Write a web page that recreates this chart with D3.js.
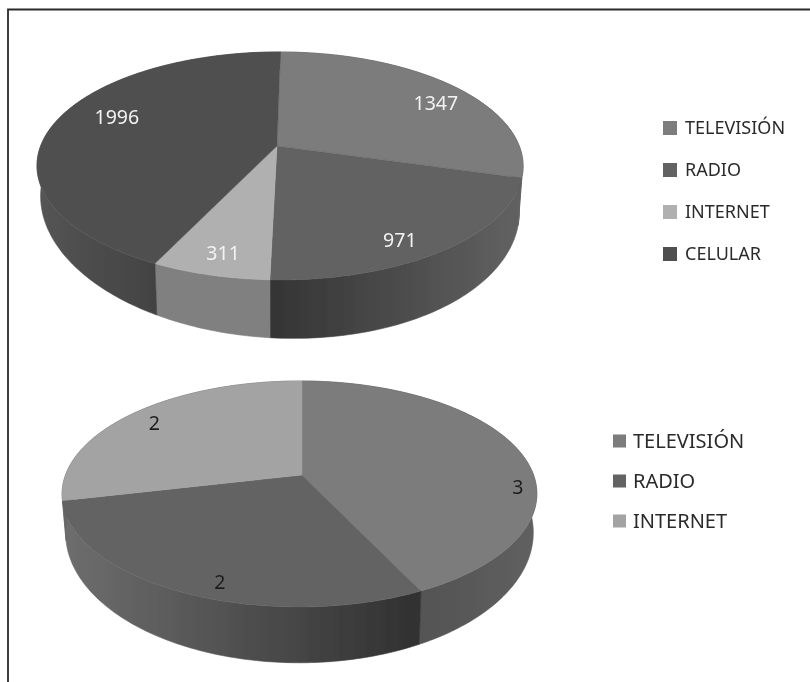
<!DOCTYPE html>
<html lang="es">
<head>
<meta charset="utf-8">
<title>Medios</title>
<script src="https://d3js.org/d3.v7.min.js"></script>
<style>
  html, body { margin: 0; padding: 0; background: #fff; }
  svg { display: block; }
  text { font-family: "Noto Sans", sans-serif; }
</style>
</head>
<body>
<div id="chart"></div>
<script>
var topCategories = ["TELEVISIÓN", "RADIO", "INTERNET", "CELULAR"];
var topValues = [1347, 971, 311, 1996];
var bottomCategories = ["TELEVISIÓN", "RADIO", "INTERNET"];
var bottomValues = [3, 2, 2];

var width = 810, height = 682;

var svg = d3.select("#chart").append("svg")
  .attr("width", width)
  .attr("height", height);

var defs = svg.append("defs");
var soft = defs.append("filter").attr("id", "soft");
soft.append("feGaussianBlur").attr("stdDeviation", 0.45);

// picture frame, only left and top are in the scan
svg.append("path")
  .attr("d", "M8,682V9.5H810")
  .attr("fill", "none")
  .attr("stroke", "#2a2a2a")
  .attr("stroke-width", 1.8);

var gradCount = 0;
function wallGradient(x0, x1, c0, c1) {
  var id = "wall" + (gradCount++);
  var g = defs.append("linearGradient").attr("id", id)
    .attr("gradientUnits", "userSpaceOnUse")
    .attr("x1", x0).attr("x2", x1).attr("y1", 0).attr("y2", 0);
  g.append("stop").attr("offset", 0).attr("stop-color", c0);
  g.append("stop").attr("offset", 1).attr("stop-color", c1);
  return "url(#" + id + ")";
}

// draws one tilted pie: a disc pushed through a small perspective so the
// near half comes out bigger than the far half, like the Excel 3D pie
function pie3d(cfg) {
  var slices = d3.pie().sort(null)
    .startAngle(cfg.rotate).endAngle(cfg.rotate + 2 * Math.PI)
    .value(function (d) { return d; })(cfg.values);

  function project(angle, r, low) {
    var u = r * Math.sin(angle), v = -r * Math.cos(angle);
    var w = 1 - cfg.k * v - cfg.m * u;
    var x = cfg.rx * u / w, y = cfg.ry * v / w;
    if (low) {
      // lower rim: wall is tallest at the front and thins out to the sides
      y = y * cfg.lowScaleY + cfg.lowShift + cfg.lowSkew * x;
      x = x * cfg.shrink + (cfg.cx - cfg.ax) * (1 - cfg.shrink);
    }
    return [cfg.ax + x, cfg.ay + y];
  }
  function rim(a0, a1, low) {
    var pts = [], n = Math.max(2, Math.ceil((a1 - a0) * 60));
    for (var i = 0; i <= n; i++) pts.push(project(a0 + (a1 - a0) * i / n, 1, low));
    return pts;
  }
  var line = d3.line();
  var g = svg.append("g").attr("filter", "url(#soft)");

  // walls first, the top surface covers the back of them
  slices.forEach(function (s, i) {
    var upper = rim(s.startAngle, s.endAngle, false);
    var lower = rim(s.startAngle, s.endAngle, true).reverse();
    var xs = upper.map(function (p) { return p[0]; });
    var wall = cfg.walls[i];
    var fill = wallGradient(d3.min(xs), d3.max(xs), wall[0], wall[1]);
    g.append("path")
      .attr("d", line(upper.concat(lower)) + "Z")
      .attr("fill", fill)
      .attr("stroke", fill)
      .attr("stroke-width", 0.6);
  });

  slices.forEach(function (s, i) {
    var outline = [[cfg.ax, cfg.ay]].concat(rim(s.startAngle, s.endAngle, false));
    g.append("path")
      .attr("d", line(outline) + "Z")
      .attr("fill", cfg.tops[i])
      .attr("stroke", cfg.tops[i])
      .attr("stroke-width", 0.4);
  });

  slices.forEach(function (s, i) {
    var mid = (s.startAngle + s.endAngle) / 2 + cfg.labelShift[i];
    var p = project(mid, cfg.labelRadius[i], false);
    g.append("text")
      .attr("x", p[0]).attr("y", p[1])
      .attr("dy", "0.36em")
      .attr("text-anchor", "middle")
      .attr("font-size", 19.5)
      .attr("fill", cfg.labelColor)
      .text(cfg.values[i]);
  });

  var legend = svg.append("g").attr("filter", "url(#soft)");
  cfg.categories.forEach(function (name, i) {
    var y = cfg.legendY + i * cfg.legendStep;
    legend.append("rect")
      .attr("x", cfg.swatchX).attr("y", y - cfg.swatch / 2)
      .attr("width", cfg.swatch).attr("height", cfg.swatch)
      .attr("fill", cfg.tops[i]);
    legend.append("text")
      .attr("x", cfg.legendX).attr("y", y)
      .attr("dy", "0.36em")
      .attr("font-size", cfg.legendSize)
      .attr("fill", "#2b2b2b")
      .text(name);
  });
}

pie3d({
  categories: topCategories,
  values: topValues,
  rotate: 0.017,
  ax: 277, ay: 146, cx: 280,
  rx: 239.3, ry: 110.5, k: 0.175, m: 0.0123,
  lowScaleY: 1.18, lowShift: 34, lowSkew: 0.03, shrink: 0.985,
  tops: ["#7b7b7b", "#626262", "#b0b0b0", "#505050"],
  walls: [["#555", "#555"], ["#343434", "#626262"], ["#808080", "#808080"], ["#555555", "#2f2f2f"]],
  labelColor: "#f2f2f2",
  labelShift: [0.109, 0.093, -0.007, 0.142],
  labelRadius: [0.818, 0.861, 0.852, 0.76],
  swatchX: 663, swatch: 14,
  legendX: 685, legendY: 128, legendStep: 42, legendSize: 18
});

pie3d({
  categories: bottomCategories,
  values: bottomValues,
  rotate: 0,
  ax: 302, ay: 475, cx: 299.5,
  rx: 234, ry: 109.8, k: 0.168, m: -0.0105,
  lowScaleY: 1.15, lowShift: 36, lowSkew: 0, shrink: 0.985,
  tops: ["#7c7c7c", "#646464", "#a3a3a3"],
  walls: [["#474747", "#606060"], ["#6e6e6e", "#303030"], ["#666", "#666"]],
  labelColor: "#1e1e1e",
  labelShift: [0.342, -0.103, -0.03],
  labelRadius: [0.921, 0.887, 0.851],
  swatchX: 613, swatch: 13,
  legendX: 633, legendY: 441, legendStep: 40, legendSize: 20
});
</script>
</body>
</html>
